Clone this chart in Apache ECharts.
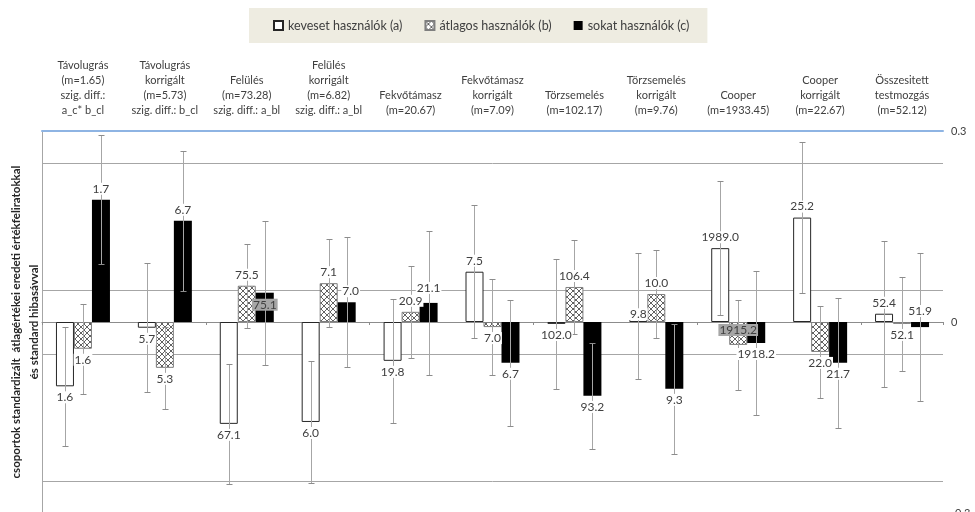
<!DOCTYPE html>
<html>
<head>
<meta charset="utf-8">
<script src="https://cdn.jsdelivr.net/npm/echarts@6/dist/echarts.min.js"></script>
<style>
html,body{margin:0;padding:0;background:#fff;}
#chart{width:975px;height:512px;}
</style>
</head>
<body>
<div id="chart"></div>
<script>
// ---- data ----
const categories = [
  "Távolugrás\n(m=1.65)\nszig. diff.:\na_c* b_cl",
  "Távolugrás\nkorrigált\n(m=5.73)\nszig. diff.: b_cl",
  "Felülés\n(m=73.28)\nszig. diff.: a_bl",
  "Felülés\nkorrigált\n(m=6.82)\nszig. diff.: a_bl",
  "Fekvőtámasz\n(m=20.67)",
  "Fekvőtámasz\nkorrigált\n(m=7.09)",
  "Törzsemelés\n(m=102.17)",
  "Törzsemelés\nkorrigált\n(m=9.76)",
  "Cooper\n(m=1933.45)",
  "Cooper\nkorrigált\n(m=22.67)",
  "Összesitett\ntestmozgás\n(m=52.12)"
];
const seriesNames = ["keveset használók (a)", "átlagos használók (b)", "sokat használók (c)"];
// standardized group means (plotted)
const valuesA = [-0.101, -0.009, -0.160, -0.157, -0.061, 0.079, -0.003, 0.009, 0.116, 0.164, 0.013];
const valuesB = [-0.042, -0.072, 0.057, 0.061, 0.016, -0.008, 0.055, 0.044, -0.036, -0.047, -0.003];
const valuesC = [0.192, 0.159, 0.046, 0.031, 0.030, -0.064, -0.116, -0.105, -0.033, -0.064, -0.008];
// standard errors
const errorsA = [0.093, 0.101, 0.094, 0.096, 0.097, 0.104, 0.102, 0.099, 0.105, 0.118, 0.115];
const errorsB = [0.071, 0.064, 0.066, 0.069, 0.072, 0.075, 0.074, 0.069, 0.071, 0.072, 0.074];
const errorsC = [0.101, 0.110, 0.113, 0.102, 0.113, 0.099, 0.083, 0.102, 0.113, 0.102, 0.116];
// original-value labels
const labelsA = ["1.6", "5.7", "67.1", "6.0", "19.8", "7.5", "102.0", "9.8", "1989.0", "25.2", "52.4"];
const labelsB = ["1.6", "5.3", "75.5", "7.1", "20.9", "7.0", "106.4", "10.0", "1915.2", "22.0", "52.1"];
const labelsC = ["1.7", "6.7", "75.1", "7.0", "21.1", "6.7", "93.2", "9.3", "1918.2", "21.7", "51.9"];
// axis
const yMin = -0.3, yMax = 0.3;
const rightTickInterval = 0.3;
const gridValues = [-0.25, -0.05, 0.05, 0.25];

// ---- styling helpers ----
const BAR_W = 18;
const FONT = "Lato";

function makeHatch() {
  const c = document.createElement('canvas');
  c.width = 6; c.height = 6;
  const g = c.getContext('2d');
  g.fillStyle = '#ffffff';
  g.fillRect(0, 0, 6, 6);
  g.strokeStyle = '#505050';
  g.lineWidth = 0.9;
  g.beginPath();
  g.moveTo(0, 0); g.lineTo(6, 6);
  g.moveTo(6, 0); g.lineTo(0, 6);
  g.stroke();
  return c;
}
const hatch = makeHatch();

const barStyles = [
  {color: '#ffffff', borderColor: '#262626', borderWidth: 1},
  {color: {image: hatch, repeat: 'repeat'}, borderColor: '#7f7f7f', borderWidth: 1},
  {color: '#000000', borderColor: '#000000', borderWidth: 0}
];

// label tweaks (style only): key "series-index"
const labelTweaks = {
  "0-7": {offset: [0, 9]},
  "1-8": {position: 'insideTop', distance: 2, backgroundColor: '#a6a6a6'},
  "2-2": {position: 'insideTop', distance: 6, backgroundColor: '#a6a6a6'},
  "2-3": {offset: [4, 0]},
  "2-4": {offset: [0, -4]},
  "2-10": {position: 'top'}
};

const valueSets = [valuesA, valuesB, valuesC];
const errorSets = [errorsA, errorsB, errorsC];
const labelSets = [labelsA, labelsB, labelsC];

// split line colors: only gridValues visible
const splitStep = 0.05;
const splitColors = [];
for (let k = 0; k <= Math.round((yMax - yMin) / splitStep); k++) {
  const val = +(yMin + k * splitStep).toFixed(4);
  splitColors.push(gridValues.some(g => Math.abs(g - val) < 1e-6) ? '#a6a6a6' : 'rgba(0,0,0,0)');
}

const series = [];
// real bars
for (let s = 0; s < 3; s++) {
  series.push({
    name: seriesNames[s],
    type: 'bar',
    xAxisIndex: 0,
    yAxisIndex: 0,
    barWidth: BAR_W,
    barGap: '0%',
    z: 2,
    itemStyle: barStyles[s],
    emphasis: {disabled: true},
    data: valueSets[s]
  });
}
// error bars
for (let s = 0; s < 3; s++) {
  const off = (s - 1) * BAR_W;
  series.push({
    name: 'err' + s,
    type: 'custom',
    xAxisIndex: 0,
    yAxisIndex: 0,
    z: 3,
    silent: true,
    data: valueSets[s].map((v, i) => [i, v, errorSets[s][i]]),
    encode: {x: 0, y: 1},
    renderItem: function (params, api) {
      const i = api.value(0), v = api.value(1), e = api.value(2);
      const hi = api.coord([i, v + e]);
      const lo = api.coord([i, v - e]);
      const x = Math.round(hi[0] + off) + 0.5;
      const y1 = Math.round(hi[1]) + 0.5, y2 = Math.round(lo[1]) + 0.5;
      return {
        type: 'group',
        children: [
          {type: 'line', shape: {x1: x, y1: y1, x2: x, y2: y2}, style: {stroke: '#a6a6a6', lineWidth: 1}},
          {type: 'line', shape: {x1: x - 3, y1: y1, x2: x + 3, y2: y1}, style: {stroke: '#8c8c8c', lineWidth: 1}},
          {type: 'line', shape: {x1: x - 3, y1: y2, x2: x + 3, y2: y2}, style: {stroke: '#8c8c8c', lineWidth: 1}}
        ]
      };
    }
  });
}
// label carriers (transparent bars on the bottom axis, drawn on top)
for (let s = 0; s < 3; s++) {
  series.push({
    name: 'lbl' + s,
    type: 'bar',
    xAxisIndex: 1,
    yAxisIndex: 0,
    barWidth: BAR_W,
    barGap: '0%',
    z: 4,
    silent: true,
    itemStyle: {color: 'rgba(0,0,0,0)'},
    data: valueSets[s].map((v, i) => {
      const tw = labelTweaks[s + '-' + i] || {};
      return {
        value: v,
        label: Object.assign({position: v >= 0 ? 'top' : 'bottom'}, tw)
      };
    }),
    label: {
      show: true,
      distance: 5,
      fontFamily: FONT,
      fontSize: 12,
      color: '#404040',
      backgroundColor: '#ffffff',
      padding: [0, 1, 0, 1],
      formatter: (p) => labelSets[s][p.dataIndex]
    }
  });
}

const option = {
  animation: false,
  backgroundColor: '#ffffff',
  textStyle: {fontFamily: FONT},
  legend: {
    data: seriesNames,
    left: 249,
    top: 8,
    icon: 'rect',
    itemWidth: 9,
    itemHeight: 9,
    itemGap: 22,
    padding: [11, 18, 11, 24],
    backgroundColor: '#eeece1',
    selectedMode: false,
    textStyle: {fontFamily: FONT, fontSize: 12.5, color: '#404040'}
  },
  grid: {left: 42, right: 32, top: 131, height: 382, containLabel: false, outerBoundsMode: 'none'},
  xAxis: [
    {
      type: 'category',
      data: categories,
      position: 'top',
      axisLine: {show: true, onZero: false, lineStyle: {color: '#8eb4e3', width: 2}},
      axisTick: {show: false},
      axisLabel: {interval: 0, fontFamily: FONT, fontSize: 11, lineHeight: 15, color: '#404040', margin: 13},
      splitLine: {show: false}
    },
    {
      type: 'category',
      data: categories,
      position: 'bottom',
      axisLine: {show: true, onZero: true, lineStyle: {color: '#8c8c8c', width: 1}},
      axisTick: {show: true, length: 3, lineStyle: {color: '#8c8c8c'}},
      axisLabel: {show: false},
      splitLine: {show: false}
    }
  ],
  yAxis: [
    {
      type: 'value',
      min: yMin,
      max: yMax,
      interval: splitStep,
      position: 'left',
      axisLine: {show: true, lineStyle: {color: '#a6a6a6'}},
      axisTick: {show: false},
      axisLabel: {show: false},
      splitLine: {show: true, showMinLine: true, showMaxLine: true, lineStyle: {color: splitColors, width: 1}},
      name: 'csoportok standardizált  átlagértékei eredeti értékfeliratokkal\nés standard hibasávval',
      nameLocation: 'middle',
      nameRotate: 90,
      nameGap: -1,
      nameTextStyle: {fontFamily: FONT, fontSize: 11.5, fontWeight: 'bold', color: '#262626', lineHeight: 18}
    },
    {
      type: 'value',
      min: yMin,
      max: yMax,
      interval: rightTickInterval,
      position: 'right',
      axisLine: {show: false},
      axisTick: {show: false},
      splitLine: {show: false},
      axisLabel: {show: true, fontFamily: FONT, fontSize: 11, color: '#404040', margin: 8}
    }
  ],
  series: series
};

const chart = echarts.init(document.getElementById('chart'), null, {renderer: 'canvas'});
chart.setOption(option);
</script>
</body>
</html>
